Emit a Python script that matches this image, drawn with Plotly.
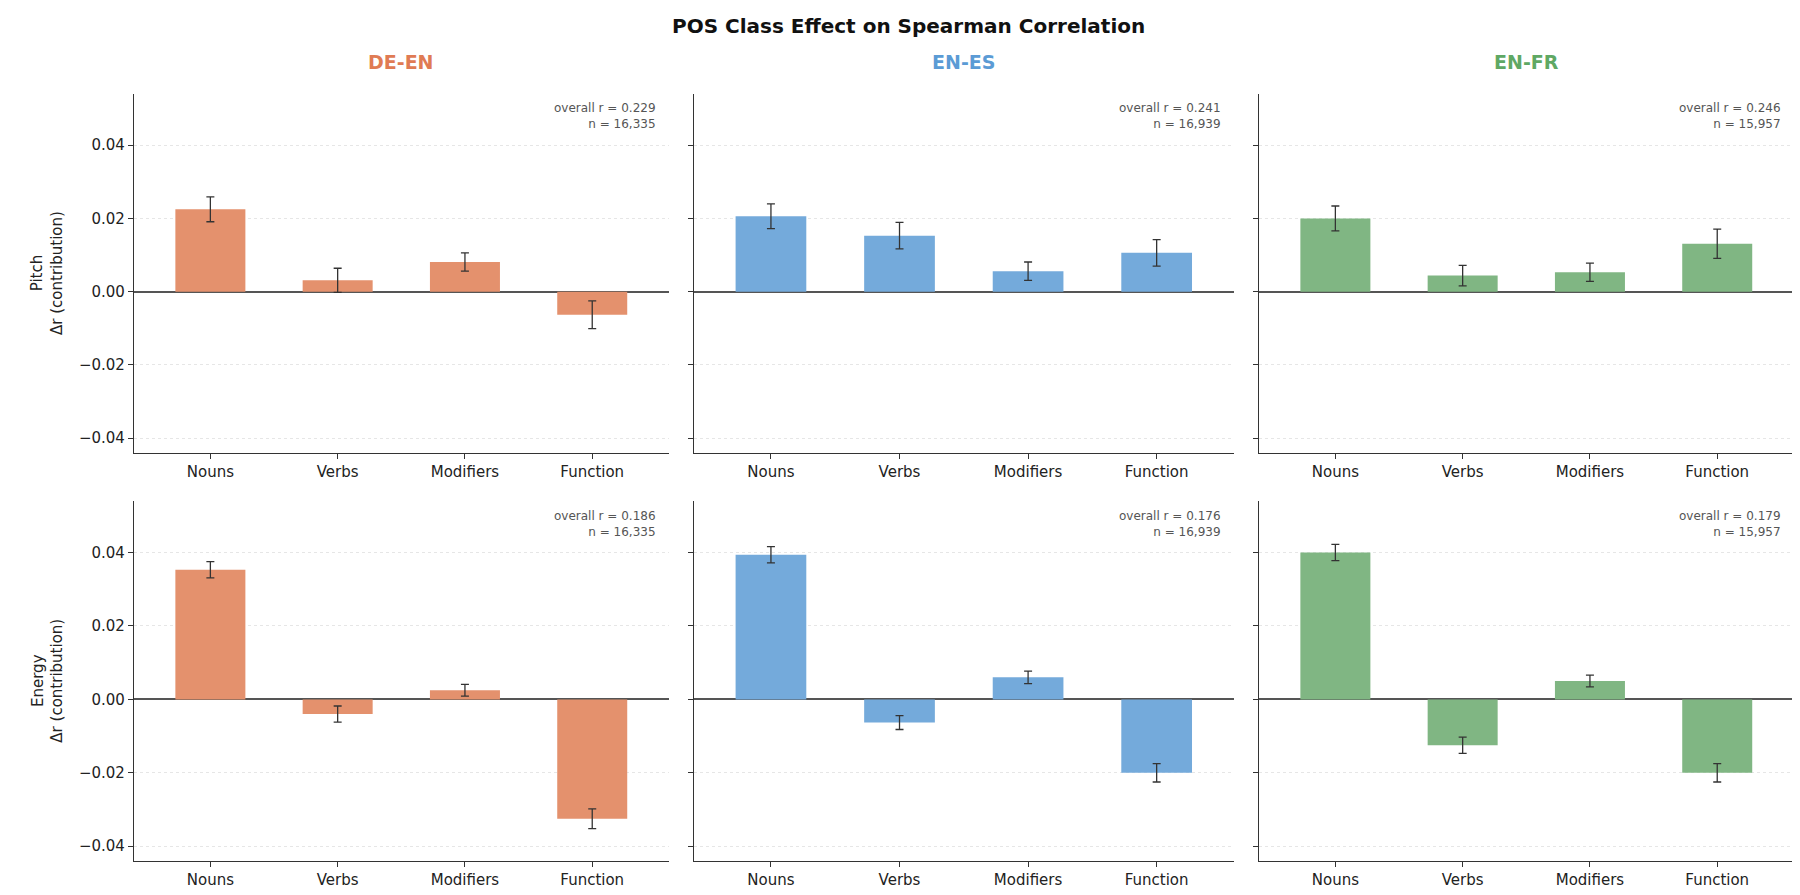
import plotly.graph_objects as go

categories = ["Nouns", "Verbs", "Modifiers", "Function"]
pairs = ["DE-EN", "EN-ES", "EN-FR"]
pitch_vals = {"DE-EN": [0.0225, 0.0031, 0.0081, -0.0063],
              "EN-ES": [0.0206, 0.0153, 0.0056, 0.0106],
              "EN-FR": [0.0200, 0.0044, 0.0053, 0.0131]}
pitch_err = {"DE-EN": [0.0034, 0.0033, 0.0025, 0.0038],
             "EN-ES": [0.0034, 0.0036, 0.0025, 0.0036],
             "EN-FR": [0.0034, 0.0028, 0.0025, 0.0040]}
energy_vals = {"DE-EN": [0.0353, -0.0040, 0.0025, -0.0325],
               "EN-ES": [0.0394, -0.0063, 0.0060, -0.0200],
               "EN-FR": [0.0400, -0.0125, 0.0050, -0.0200]}
energy_err = {"DE-EN": [0.0022, 0.0022, 0.0016, 0.0027],
              "EN-ES": [0.0022, 0.0019, 0.0017, 0.0025],
              "EN-FR": [0.0022, 0.0022, 0.0016, 0.0025]}
overall_r_pitch = {"DE-EN": "0.229", "EN-ES": "0.241", "EN-FR": "0.246"}
overall_r_energy = {"DE-EN": "0.186", "EN-ES": "0.176", "EN-FR": "0.179"}
n_words = {"DE-EN": "16,335", "EN-ES": "16,939", "EN-FR": "15,957"}
yticks = [-0.04, -0.02, 0.0, 0.02, 0.04]

bar_colors = {"DE-EN": "#E4916D", "EN-ES": "#74AADB", "EN-FR": "#80B683"}
title_colors = {"DE-EN": "#E07B54", "EN-ES": "#5B9BD5", "EN-FR": "#5FA864"}

xdom = [(0.070, 0.367), (0.381, 0.681), (0.695, 0.992)]
ydom = [(0.503, 0.904), (0.047, 0.449)]
FONT = "DejaVu Sans"

fig = go.Figure()
lay = {}
ann = []
shapes = []
idx = 0
for r, (vals, errs, rdict, rowname) in enumerate([(pitch_vals, pitch_err, overall_r_pitch, "Pitch"),
                                                   (energy_vals, energy_err, overall_r_energy, "Energy")]):
    for c, p in enumerate(pairs):
        idx += 1
        xa = "x" if idx == 1 else f"x{idx}"
        ya = "y" if idx == 1 else f"y{idx}"
        fig.add_trace(go.Bar(x=categories, y=vals[p], xaxis=xa, yaxis=ya, width=0.55,
                             marker=dict(color=bar_colors[p], line=dict(width=0)),
                             error_y=dict(type="data", array=errs[p], color="#333333",
                                          thickness=1.3, width=4),
                             showlegend=False))
        lay["xaxis" + ("" if idx == 1 else str(idx))] = dict(
            domain=xdom[c], anchor=ya, showline=True, linecolor="#333", linewidth=1.2,
            ticks="outside", ticklen=5, tickcolor="#333", range=[-0.6, 3.6],
            tickfont=dict(family=FONT, size=15, color="#222"), showgrid=False, fixedrange=True)
        lay["yaxis" + ("" if idx == 1 else str(idx))] = dict(
            domain=ydom[r], anchor=xa, range=[-0.044, 0.054], tickvals=yticks,
            ticktext=[f"{v:.2f}".replace("-", "−") for v in yticks] if c == 0 else [""] * 5,
            showline=True, linecolor="#333", linewidth=1.2, ticks="outside", ticklen=5,
            tickcolor="#333", showgrid=True, gridcolor="#e6e6e6", griddash="dot",
            zeroline=True, zerolinecolor="#555", zerolinewidth=1.5,
            tickfont=dict(family=FONT, size=15, color="#222"))
        ann.append(dict(xref=f"{xa} domain", yref=f"{ya} domain", x=0.98, y=0.985,
                        xanchor="right", yanchor="top", showarrow=False, align="right",
                        text=f"overall r = {rdict[p]}<br>n = {n_words[p]}",
                        font=dict(family=FONT, size=12, color="#555")))
        if r == 0:
            ann.append(dict(xref="paper", yref="paper", x=sum(xdom[c]) / 2, y=0.925,
                            xanchor="center", yanchor="bottom", showarrow=False, text=f"<b>{p}</b>",
                            font=dict(family=FONT, size=19, color=title_colors[p])))
        if c == 0:
            ann.append(dict(xref="paper", yref="paper", x=0.022, y=sum(ydom[r]) / 2,
                            textangle=-90, showarrow=False, xanchor="center", yanchor="middle",
                            text=f"{rowname}<br>Δr (contribution)",
                            font=dict(family=FONT, size=15, color="#222")))

ann.append(dict(xref="paper", yref="paper", x=0.5, y=0.995, xanchor="center", yanchor="top",
                showarrow=False, text="<b>POS Class Effect on Spearman Correlation</b>",
                font=dict(family=FONT, size=20, color="#111")))

fig.update_layout(**lay, annotations=ann, width=1800, height=895,
                  margin=dict(l=0, r=0, t=0, b=0), plot_bgcolor="white",
                  paper_bgcolor="white", bargap=0.45)
fig.write_html("out.html")
